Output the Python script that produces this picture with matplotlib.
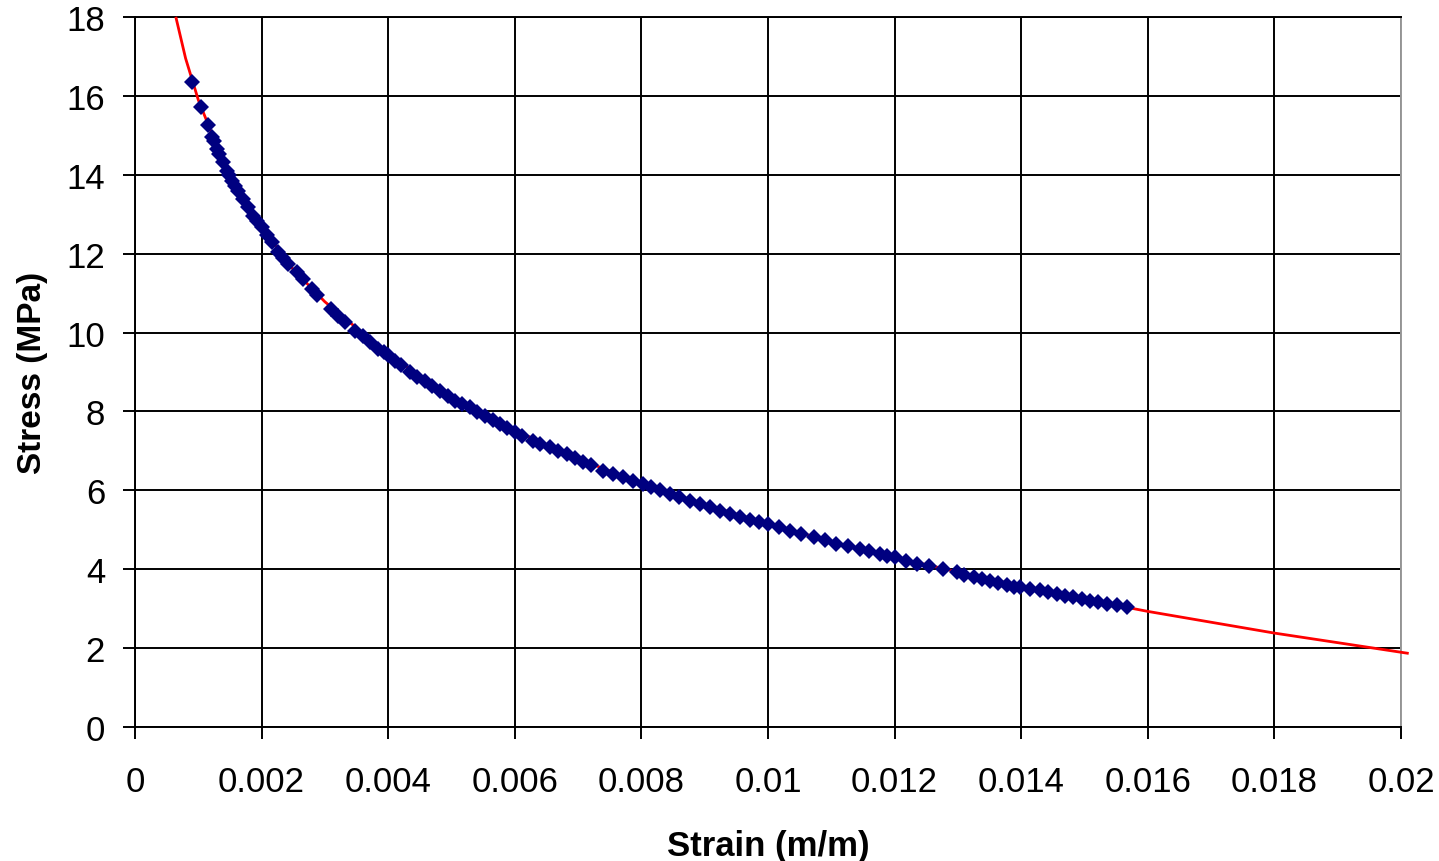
"""Stress vs strain: measured points (navy diamonds) with the fitted trend line (red)."""

import matplotlib.pyplot as plt
import matplotlib.ticker as ticker

# measured points
strain = [
    0.000896, 0.001037, 0.001158, 0.00121, 0.00125, 0.00129, 0.00133, 0.001395,
    0.001448, 0.00149, 0.001527, 0.00158, 0.001632, 0.00171, 0.00179, 0.00187,
    0.00193, 0.002, 0.00208, 0.00216, 0.002264, 0.00234, 0.00242, 0.002555,
    0.00265, 0.00279, 0.00287, 0.0031, 0.00321, 0.00332, 0.003475, 0.0036,
    0.00371, 0.00384, 0.00393, 0.004, 0.004107, 0.0042, 0.004344, 0.00446,
    0.00458, 0.0047, 0.00482, 0.00494, 0.005055, 0.00517, 0.00529, 0.0054,
    0.005529, 0.00565, 0.005766, 0.00588, 0.006, 0.00612, 0.00629, 0.0064,
    0.006556, 0.00668, 0.00682, 0.00695, 0.00708, 0.0072, 0.0074, 0.00755,
    0.00771, 0.00786, 0.00802, 0.00815, 0.0083, 0.00845, 0.0086, 0.00877,
    0.00893, 0.00908, 0.00924, 0.0094, 0.00956, 0.00972, 0.00986, 0.01,
    0.01018, 0.01035, 0.01052, 0.01072, 0.0109, 0.01108, 0.01126, 0.01145,
    0.0116, 0.01177, 0.01188, 0.012, 0.01218, 0.01235, 0.01255, 0.01277,
    0.01298, 0.0131, 0.01325, 0.01338, 0.01351, 0.01364, 0.01377, 0.01388,
    0.01398, 0.01414, 0.0143, 0.01443, 0.01456, 0.01469, 0.01482, 0.01496,
    0.01509, 0.01522, 0.01535, 0.01551, 0.01567,
]
stress = [
    16.36, 15.71, 15.25, 14.95, 14.85, 14.66, 14.52, 14.32,
    14.1, 14.0, 13.85, 13.72, 13.6, 13.38, 13.18, 12.96,
    12.82, 12.67, 12.48, 12.29, 12.04, 11.9, 11.74, 11.53,
    11.35, 11.1, 10.95, 10.6, 10.43, 10.27, 10.05, 9.9,
    9.77, 9.58, 9.5, 9.44, 9.29, 9.18, 8.99, 8.88,
    8.78, 8.64, 8.53, 8.4, 8.27, 8.18, 8.1, 7.99,
    7.89, 7.78, 7.68, 7.57, 7.47, 7.38, 7.26, 7.18,
    7.09, 7.0, 6.92, 6.82, 6.72, 6.63, 6.5, 6.42,
    6.33, 6.24, 6.16, 6.08, 6.0, 5.91, 5.82, 5.73,
    5.65, 5.57, 5.48, 5.4, 5.32, 5.25, 5.2, 5.15,
    5.06, 4.98, 4.9, 4.81, 4.73, 4.65, 4.58, 4.51,
    4.45, 4.39, 4.34, 4.3, 4.21, 4.14, 4.07, 4.0,
    3.92, 3.86, 3.81, 3.76, 3.71, 3.65, 3.59, 3.56,
    3.54, 3.5, 3.46, 3.41, 3.37, 3.33, 3.29, 3.24,
    3.2, 3.16, 3.12, 3.08, 3.04,
]

# trend line
trend_strain = [
    0.00065, 0.0008, 0.001, 0.0013, 0.0016, 0.002, 0.0025, 0.003, 0.004,
    0.005, 0.006, 0.007, 0.008, 0.009, 0.010, 0.011, 0.012, 0.013, 0.014,
    0.015, 0.016, 0.018, 0.0201,
]
trend_stress = [
    17.97, 16.95, 15.9, 14.7, 13.7, 12.7, 11.6, 10.78, 9.45,
    8.38, 7.52, 6.8, 6.18, 5.64, 5.15, 4.7, 4.3, 3.93, 3.57,
    3.24, 2.93, 2.38, 1.87,
]

x_ticks = [0, 0.002, 0.004, 0.006, 0.008, 0.01, 0.012, 0.014, 0.016, 0.018, 0.02]
x_tick_labels = ["0", "0.002", "0.004", "0.006", "0.008", "0.01", "0.012",
                 "0.014", "0.016", "0.018", "0.02"]
y_ticks = list(range(0, 19, 2))

plt.rcParams["font.family"] = ["Liberation Sans", "DejaVu Sans"]

fig = plt.figure(figsize=(14.39, 8.62), dpi=100)
ax = fig.add_axes([0.0938, 0.1555, 0.8798, 0.8236])

ax.plot(trend_strain, trend_stress, color="#ff0000", linewidth=2.0,
        zorder=3, clip_on=False)
ax.plot(strain, stress, linestyle="none", marker="D", markersize=8.6,
        color="#000080", markeredgewidth=0, zorder=4)

ax.set_xlim(0, 0.02)
ax.set_ylim(0, 18)
ax.set_xticks(x_ticks)
ax.set_xticklabels(x_tick_labels)
ax.set_yticks(y_ticks)
ax.yaxis.set_major_formatter(ticker.FormatStrFormatter("%d"))

ax.grid(True, color="black", linewidth=1.4)
ax.set_axisbelow(True)
for side in ("left", "bottom", "top"):
    ax.spines[side].set_color("black")
    ax.spines[side].set_linewidth(1.4)
ax.spines["right"].set_color("#999999")
ax.spines["right"].set_linewidth(1.4)

ax.tick_params(axis="both", direction="out", length=8.5, width=1.4,
               labelsize=25, colors="black")
ax.tick_params(axis="x", pad=19)
ax.tick_params(axis="y", pad=13)

ax.set_xlabel("Strain (m/m)", fontsize=25, fontweight="bold", labelpad=22)
ax.set_ylabel("Stress (MPa)", fontsize=24, fontweight="bold", labelpad=13)

fig.savefig("out.png", dpi=100)
